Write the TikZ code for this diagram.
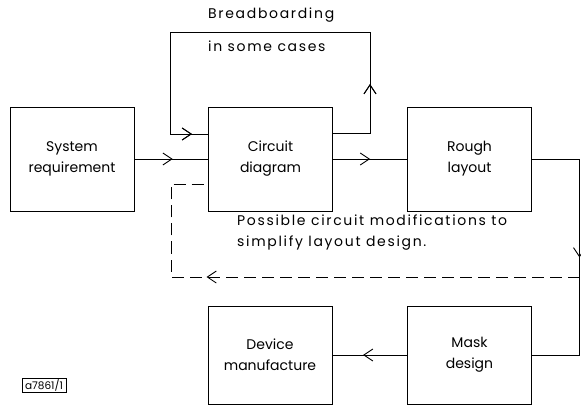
\documentclass[tikz,border=0pt]{standalone}
\usepackage{fontspec}
\setmainfont{Poppins}
\newfontfamily\spaced{Poppins}[LetterSpace=12]
\usetikzlibrary{arrows.meta,decorations.markings}
\newcommand\lettering{\fontsize{14}{21}\selectfont}
\tikzset{
  >={Straight Barb[length=9pt,width=12pt]},
  wire/.style={line width=0.9pt},
  block/.style={draw,wire,minimum width=124pt,minimum height=#1,
    inner sep=0pt,align=center,font=\lettering},
  block/.default=104pt,
  midarrow/.style={postaction={decorate},
    decoration={markings,mark=at position #1 with {\arrow[line width=0.9pt]{>}}}},
  fbline/.style={wire,dash pattern=on 12pt off 6pt},
  remark/.style={inner sep=0pt,align=left,font=\spaced\lettering,anchor=base west},
}
\begin{document}
\begin{tikzpicture}[x=1pt,y=-1pt]
  \useasboundingbox (0,0) rectangle (581,406);
  % blocks
  \node[block] (sysreq) at (72,159) {System\\requirement};
  \node[block] (circdiag) at (270.5,159) {Circuit\\diagram};
  \node[block] (rough) at (469.5,159) {Rough\\layout};
  \node[block=98pt] (mask) at (469.5,355) {Mask\\design};
  \node[block=98pt] (device) at (270,355) {Device\\manufacture};
  % corner points
  \coordinate (bbR) at (370,32);
  \coordinate (bbL) at (170,32);
  \coordinate (rim) at (579.5,0);
  \coordinate (fbR) at (579.5,277);
  \coordinate (fbL) at (171,277);
  % main flow
  \draw[wire,midarrow=0.52] (sysreq.east) -- (circdiag.west);
  \draw[wire,midarrow=0.5] (circdiag.east) -- (rough.west);
  \draw[wire,midarrow=146pt] (rough.east) -- (rough.east -| rim) -- (mask.east -| rim) -- (mask.east);
  \draw[wire,midarrow=0.59] (mask.west) -- (device.east);
  % breadboarding loop
  \draw[wire,midarrow=86pt,midarrow=462pt] ([yshift=26pt]circdiag.east) -| (bbR) -- (bbL) |- ([yshift=25pt]circdiag.west);
  % feedback
  \draw[fbline,midarrow=373pt] (fbR) -- (fbL) |- ([yshift=-25pt]circdiag.west);
  % labels
  \node[remark] (bbtop) at (208,19) {Breadboarding};
  \node[remark] (bbsub) at (208,52) {in some cases};
  \node[remark] (fbtext) at (237,247) {Possible circuit modifications to\\simplify layout design.};
  \node[draw,line width=0.6pt,inner xsep=3pt,inner ysep=1pt,minimum height=12pt,
    font=\fontsize{10.5}{11}\selectfont] (ref) at (44,385) {a7861/1};
\end{tikzpicture}
\end{document}
